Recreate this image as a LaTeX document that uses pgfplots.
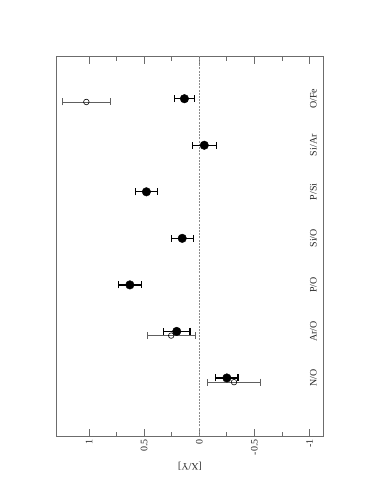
\documentclass[border=0pt]{standalone}
\usepackage{fontspec}
\setmainfont{Liberation Serif}
\usepackage{pgfplots}
\usepackage{pgfplotstable}
\pgfplotsset{compat=1.18}
\pgfplotstableread{
x y e
-0.25 1 0.10
0.205 2 0.12
0.63 3 0.105
0.155 4 0.10
0.48 5 0.10
-0.045 6 0.11
0.135 7 0.09
}\filled
\pgfplotstableread{
x y e
-0.315 0.91 0.24
0.255 1.91 0.22
1.025 6.93 0.22
}\open
\begin{document}
\begin{tikzpicture}
\begin{axis}[name=ax, scale only axis, width=266.6bp, height=379.3bp,
  x dir=reverse, xmin=-1.125, xmax=1.294, ymin=-0.247, ymax=7.903,
  xtick={-1,-0.5,0,0.5,1}, minor x tick num=1, ytick=\empty,
  tick align=inside, major tick length=7bp, minor tick length=4bp,
  xticklabel style={rotate=90, anchor=east, text=black!85},
  xlabel={[X/Y]}, xlabel style={rotate=180, text=black!85},
  axis line style={gray!85!black, line width=1pt},
  tick style={gray!85!black, line width=0.9pt},
  /pgf/number format/assume math mode=true,
  font=\fontsize{10}{12}\selectfont,
]
\addplot[gray!90, line width=1.2pt, dash pattern=on 2pt off 1.2pt] coordinates {(0,-1) (0,9)};
\addplot[only marks, mark=*, mark size=4.3pt, black,
  error bars/.cd, x dir=both, x explicit,
  error bar style={line width=1.3pt, black},
  error mark options={rotate=90, line width=1.3pt, mark size=3.5pt}]
  table[x=x, y=y, x error=e] {\filled};
\addplot[only marks, mark=o, mark size=2.8pt, black, mark options={fill=white, line width=0.6pt},
  error bars/.cd, x dir=both, x explicit,
  error bar style={line width=0.8pt, gray!75!black},
  error mark options={rotate=90, line width=0.8pt, mark size=3.5pt, gray!75!black}]
  table[x=x, y=y, x error=e] {\open};
\node[rotate=90, text=black!85] at (axis cs:-1.034,1) {N/O};
\node[rotate=90, text=black!85] at (axis cs:-1.034,2) {Ar/O};
\node[rotate=90, text=black!85] at (axis cs:-1.034,3) {P/O};
\node[rotate=90, text=black!85] at (axis cs:-1.034,4) {Si/O};
\node[rotate=90, text=black!85] at (axis cs:-1.034,5) {P/Si};
\node[rotate=90, text=black!85] at (axis cs:-1.034,6) {Si/Ar};
\node[rotate=90, text=black!85] at (axis cs:-1.034,7) {O/Fe};
\end{axis}
\path (ax.south west) ++(-56.7bp,-58bp) rectangle ++(382bp,494bp);
\end{tikzpicture}
\end{document}
